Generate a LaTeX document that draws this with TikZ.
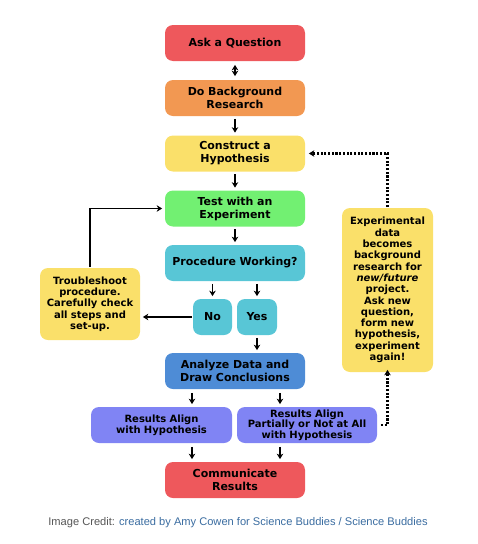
\documentclass[tikz,border=0pt]{standalone}
\usepackage{fontspec}
\setmainfont{DejaVu Sans}
\newfontfamily\creditfont{Liberation Sans}
\usetikzlibrary{arrows.meta}

\definecolor{stepred}{RGB}{238,88,92}
\definecolor{steporange}{RGB}{242,152,82}
\definecolor{stepyellow}{RGB}{250,224,106}
\definecolor{stepgreen}{RGB}{114,240,114}
\definecolor{stepcyan}{RGB}{88,198,214}
\definecolor{stepblue}{RGB}{78,140,214}
\definecolor{stepviolet}{RGB}{128,132,244}
\definecolor{creditgray}{RGB}{85,85,85}
\definecolor{creditblue}{RGB}{58,108,160}

\begin{document}
\begin{tikzpicture}[x=1pt, y=-1pt, line width=1.7pt,
  box/.style={rounded corners=8pt, inner sep=0pt, align=center,
    font=\fontsize{11}{13}\selectfont\bfseries, text width=#1},
  box/.default=134pt,
  small/.style={font=\fontsize{10}{11.3}\selectfont\bfseries},
  main/.style={box, minimum width=140pt, minimum height=36pt},
  link/.style={-{Stealth[length=5.5pt,width=6.5pt]}},
  loop/.style={-{Stealth[length=5.5pt,width=6.5pt]}, line width=2.1pt, dash pattern=on 2.1pt off 1.6pt}]
  \useasboundingbox (0,0) rectangle (478,544);
  % main column
  \node[main, fill=stepred] (ask) at (235,43) {Ask a Question};
  \node[main, fill=steporange] (research) at (235,98) {Do Background\\Research};
  \node[main, fill=stepyellow] (hypo) at (235,153.5) {Construct a\\Hypothesis};
  \node[main, fill=stepgreen] (test) at (235,208.5) {Test with an\\Experiment};
  \node[main, fill=stepcyan] (working) at (235,263) {Procedure Working?};
  \node[box=36pt, fill=stepcyan, minimum width=39pt, minimum height=36pt] (no) at (212.5,317) {No};
  \node[box=36pt, fill=stepcyan, minimum width=40pt, minimum height=36pt] (yes) at (257,317) {Yes};
  \node[main, fill=stepblue] (analyze) at (235,371) {Analyze Data and\\Draw Conclusions};
  \node[main, small, fill=stepviolet, minimum width=141pt] (align) at (161.5,425) {Results Align\\with Hypothesis};
  \node[main, small, fill=stepviolet, font=\fontsize{10}{10.5}\selectfont\bfseries] (partial) at (307,425) {Results Align\\Partially or Not at All\\with Hypothesis};
  \node[main, fill=stepred] (share) at (235,480) {Communicate\\Results};
  % side notes
  \node[box=96pt, small, fill=stepyellow, minimum width=100pt, minimum height=72pt] (trouble) at (90,304)
    {Troubleshoot\\procedure.\\Carefully check\\all steps and\\set-up.};
  \node[box=88pt, small, fill=stepyellow, minimum width=91pt, minimum height=164pt] (again) at (387.5,290)
    {Experimental\\data\\becomes\\background\\research for\\\textit{new/future}\\project.\\Ask new\\question,\\form new\\hypothesis,\\experiment\\again!};
  % split points for the lower arrows
  \coordinate (leftcol) at (192,0);
  \coordinate (rightcol) at (280,0);
  % arrows
  \draw[{Stealth[length=5.5pt,width=6.5pt]}-{Stealth[length=5.5pt,width=6.5pt]}] ([yshift=-3pt]ask.south) -- ([yshift=3pt]research.north);
  \draw[link] ([yshift=-2pt]research.south) -- ([yshift=2pt]hypo.north);
  \draw[link] ([yshift=-2pt]hypo.south) -- ([yshift=2pt]test.north);
  \draw[link] ([yshift=-2pt]test.south) -- ([yshift=2pt]working.north);
  \draw[link] ([yshift=-2pt]working.south -| no) -- ([yshift=2pt]no.north);
  \draw[link] ([yshift=-2pt]working.south -| yes) -- ([yshift=2pt]yes.north);
  \draw[link] ([yshift=-2pt]yes.south) -- ([yshift=2pt]analyze.north -| yes);
  \draw[link] ([yshift=-3pt]analyze.south -| leftcol) -- ([yshift=2pt]align.north -| leftcol);
  \draw[link] ([yshift=-3pt]analyze.south -| rightcol) -- ([yshift=2pt]partial.north -| rightcol);
  \draw[link] ([yshift=-3pt]align.south -| leftcol) -- ([yshift=2pt]share.north -| leftcol);
  \draw[link] ([yshift=-3pt]partial.south -| rightcol) -- ([yshift=2pt]share.north -| rightcol);
  \draw[link] (no.west) -- ([xshift=2pt]trouble.east |- no.west);
  \draw[link] (trouble.north) |- ([xshift=-2pt]test.west);
  \draw[loop] (again.north) |- ([xshift=3pt]hypo.east);
  \draw[loop] ([xshift=3pt]partial.east) -| ([yshift=3pt]again.south);
  % credit line
  \node[font=\creditfont\fontsize{11.1}{13}\selectfont, inner sep=0pt] (credit) at (238,523)
    {\textcolor{creditgray}{Image Credit:} \textcolor{creditblue}{created by Amy Cowen for Science Buddies / Science Buddies}};
\end{tikzpicture}
\end{document}
